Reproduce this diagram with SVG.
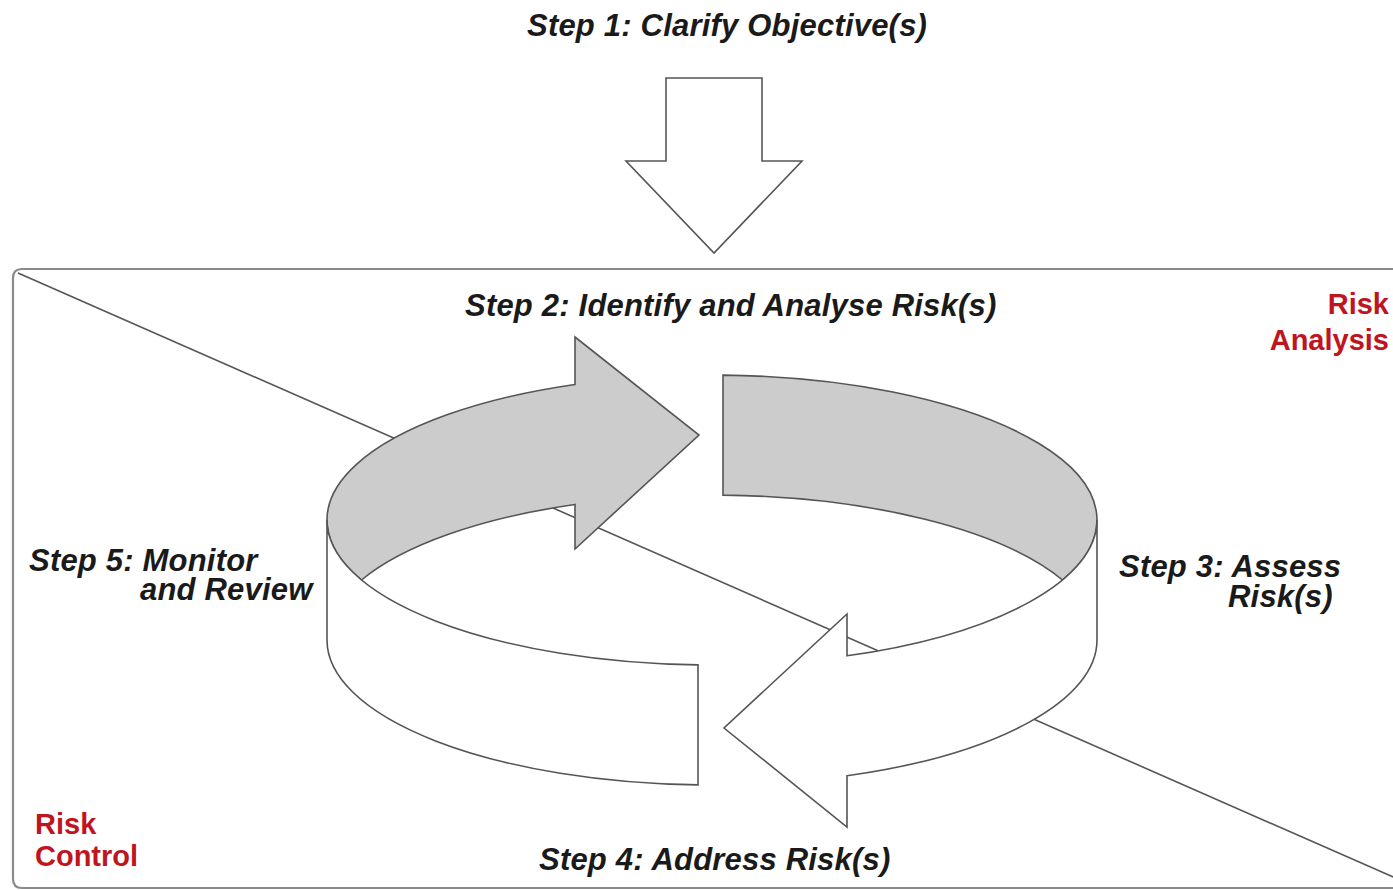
<svg xmlns="http://www.w3.org/2000/svg" width="1393" height="890" viewBox="0 0 1393 890">
<style>
.lbl{font-family:"Liberation Sans",Arial,sans-serif;font-weight:bold;font-style:italic;font-size:31px;letter-spacing:0.2px;fill:#1a1a1a}
.red{font-family:"Liberation Sans",Arial,sans-serif;font-weight:bold;font-size:29px;fill:#c0141e}
.shape{stroke:#555;stroke-width:1.6;stroke-linejoin:miter}
.gray{fill:#cccccc}
.white{fill:#ffffff}
</style>
<rect width="1393" height="890" fill="#ffffff"/>
<g id="frame">
<path d="M1400,269 H22 Q13,269 13,278 V879 Q13,888 22,888 H1400" fill="none" stroke="#8a8a8a" stroke-width="2.2"/>
<line x1="18" y1="273" x2="1400" y2="880" stroke="#555" stroke-width="1.6"/>
</g>
<g id="connectors">
<polygon id="step1-arrow" class="shape white" points="666,78 762,78 762,161 802,161 714,253 626,161 666,161"/>
</g>
<g id="node-step2-arrow">
<path class="shape gray" d="M575,384.5 A385,145 0 0 0 361.5,580 A385,145 0 0 1 575,504.5 L575,549 L699,435 L575,337 Z"/>
</g>
<g id="node-step3-band">
<path class="shape gray" d="M723,375.1 A385,145 0 0 1 1062.5,580 A385,145 0 0 0 723,495.1 Z"/>
</g>
<g id="node-step5-band">
<path class="shape white" d="M327,520 A385,145 0 0 0 698,664.9 L698,784.9 A385,145 0 0 1 327,640 Z"/>
</g>
<g id="node-step4-arrow">
<path class="shape white" d="M1097,520 A385,145 0 0 1 847,655.8 L847,614 L724,728 L847,827 L847,775.8 A385,145 0 0 0 1097,640 Z"/>
</g>
<g id="labels">
<text class="lbl" x="527" y="36">Step 1: Clarify Objective(s)</text>
<text class="lbl" x="465" y="316">Step 2: Identify and Analyse Risk(s)</text>
<text class="lbl" x="1119" y="577">Step 3: Assess</text>
<text class="lbl" x="1228" y="607">Risk(s)</text>
<text class="lbl" x="539" y="870">Step 4: Address Risk(s)</text>
<text class="lbl" x="29" y="571">Step 5: Monitor</text>
<text class="lbl" x="140" y="600">and Review</text>
<text class="red" x="1389" y="314" text-anchor="end">Risk</text>
<text class="red" x="1389" y="350" text-anchor="end">Analysis</text>
<text class="red" x="35" y="834">Risk</text>
<text class="red" x="35" y="866">Control</text>
</g>
</svg>
